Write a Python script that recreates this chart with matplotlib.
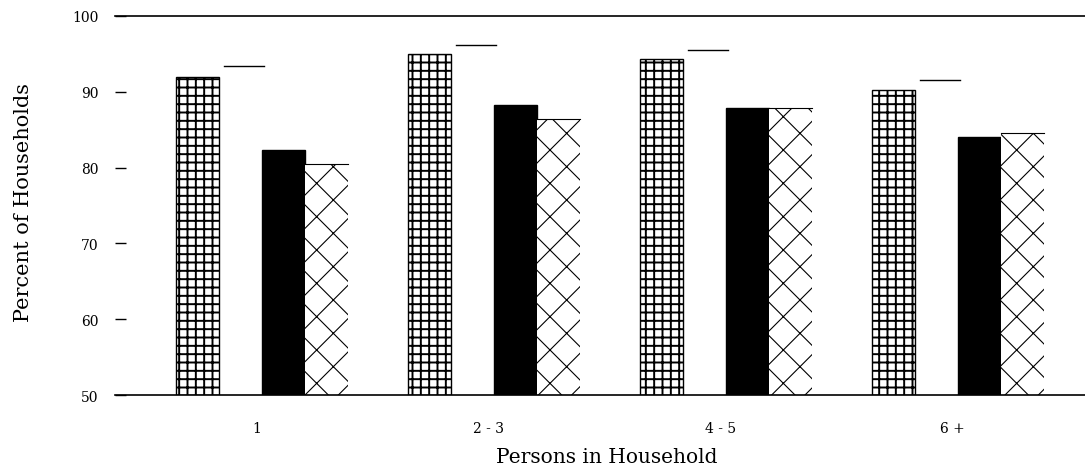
import matplotlib.pyplot as plt
import numpy as np

plt.rcParams['font.family'] = ['DejaVu Serif']
plt.rcParams['hatch.linewidth'] = 1.4

# data
groups = ['1', '2 - 3', '4 - 5', '6 +']
grid_vals = [91.9, 95.0, 94.3, 90.2]
white_vals = [93.4, 96.2, 95.5, 91.5]
black_vals = [82.3, 88.2, 87.8, 84.0]
cross_vals = [80.5, 86.4, 87.9, 84.6]

x = np.arange(len(groups))
w = 0.185

fig = plt.figure(figsize=(10.85, 4.77), dpi=100)
ax = fig.add_axes([0.106, 0.1698, 0.894, 0.7946])

# grid bars
ax.bar(x - 1.5 * w, [v - 50 for v in grid_vals], w, bottom=50,
       color='white', edgecolor='black', linewidth=1.0, hatch='++')

# white bars: only the top edge shows
wb = ax.bar(x - 0.5 * w, [v - 50 for v in white_vals], w, bottom=50,
            color='none', edgecolor='none')
for r in wb:
    ax.plot([r.get_x() + 0.12 * w, r.get_x() + 1.05 * w],
            [r.get_y() + r.get_height()] * 2, color='black', lw=1.0)

# black bars
ax.bar(x + 0.5 * w, [v - 50 for v in black_vals], w, bottom=50,
       color='black', edgecolor='black')

# crosshatched bars
with plt.rc_context({'hatch.linewidth': 0.8}):
    cb = ax.bar(x + 1.5 * w, [v - 50 for v in cross_vals], w, bottom=50,
                color='white', edgecolor='black', linewidth=0, hatch='x')
for r in cb:
    ax.plot([r.get_x(), r.get_x() + r.get_width()],
            [r.get_y() + r.get_height()] * 2, color='black', lw=0.8)

ax.set_xlim(-0.634, 3.547)
ax.set_ylim(50, 100)
ax.set_yticks([50, 60, 70, 80, 90, 100])
ax.set_xticks(x - 0.025)
ax.set_xticklabels(groups)
ax.tick_params(axis='x', length=0, pad=19, labelsize=10)
ax.tick_params(axis='y', direction='in', length=8, width=1, pad=12,
               labelsize=10)

for s in ['left', 'right']:
    ax.spines[s].set_visible(False)
ax.spines['top'].set_linewidth(1.2)
ax.spines['bottom'].set_linewidth(1.2)

ax.set_ylabel('Percent of Households', fontsize=15)
ax.yaxis.set_label_coords(-0.085, 0.51)
ax.set_xlabel('Persons in Household', fontsize=14.5)
ax.xaxis.set_label_coords(0.507, -0.138)

fig.savefig('out.png', dpi=100)
